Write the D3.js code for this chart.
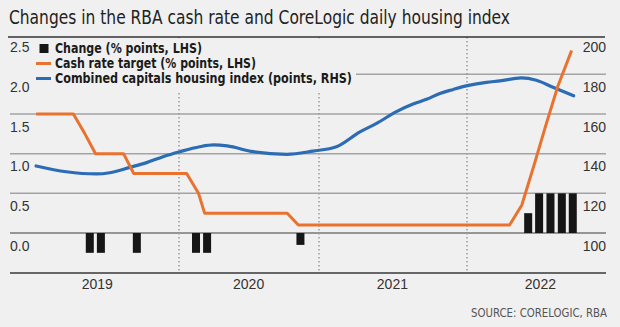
<!DOCTYPE html>
<html>
<head>
<meta charset="utf-8">
<script src="https://cdn.jsdelivr.net/npm/d3@7"></script>
<style>
  body { margin: 0; background: #f0f0f0; }
  svg { display: block; }
  .narrow { font-family: "Liberation Sans Narrow", "DejaVu Sans Condensed", "Roboto", sans-serif; }
  .num { font-family: "Liberation Sans", Arial, sans-serif; }
</style>
</head>
<body>
<svg class="chart"></svg>
<script>
// cash rate target, % points (LHS)
const cashDates = ["2019-02-13", "2019-05-08", "2019-06-03", "2019-06-27", "2019-08-29", "2019-09-21",
  "2020-01-21", "2020-02-21", "2020-03-08", "2020-10-10", "2020-11-08",
  "2022-04-16", "2022-05-16", "2022-06-15", "2022-07-14", "2022-08-13", "2022-09-16"];
const cashRate = [1.5, 1.5, 1.25, 1.0, 1.0, 0.75, 0.75, 0.5, 0.25, 0.25, 0.1, 0.1, 0.35, 0.85, 1.35, 1.85, 2.3];

// change in cash rate, % points (LHS)
const changeDates = ["2019-06-05", "2019-06-30", "2019-09-19", "2020-02-04", "2020-03-04", "2020-11-03",
  "2022-05-22", "2022-06-18", "2022-07-16", "2022-08-13", "2022-09-09"];
const changeValues = [-0.25, -0.25, -0.25, -0.25, -0.25, -0.15, 0.25, 0.5, 0.5, 0.5, 0.5];

// combined capitals housing index, points (RHS)
const indexDates = ["2019-02-13", "2019-04-22", "2019-06-29", "2019-07-29", "2019-09-12", "2019-10-20", "2019-11-26",
  "2020-01-03", "2020-02-24", "2020-04-01", "2020-05-06", "2020-07-13", "2020-10-09", "2020-12-16",
  "2021-02-13", "2021-04-12", "2021-05-23", "2021-07-11", "2021-08-21", "2021-09-23", "2021-10-26", "2021-11-28",
  "2022-01-02", "2022-02-18", "2022-03-23", "2022-05-15", "2022-06-21", "2022-08-01", "2022-09-21"];
const indexValues = [133.8, 130.9, 129.8, 130.4, 133.1, 135.5, 138.5,
  141, 143.5, 144.4, 143.9, 141, 139.7, 141.3,
  143.5, 151, 155.3, 161.2, 165, 167.4, 170.4, 172.4,
  174.3, 176, 176.7, 178.2, 177, 173.5, 169.2];

// axis ticks
const years = [2019, 2020, 2021, 2022];
const leftTicks = [0, 0.5, 1, 1.5, 2, 2.5];
const rightTicks = [100, 120, 140, 160, 180, 200];

const legendLabels = ["Change (% points, LHS)", "Cash rate target (% points, LHS)",
  "Combined capitals housing index (points, RHS)"];

const width = 620, height = 327;
const bg = "#f0f0f0";
const orange = "#e8722e", blue = "#2b6cb4";

const parse = d3.timeParse("%Y-%m-%d");

const svg = d3.select(".chart")
  .attr("width", width)
  .attr("height", height)
  .style("background", bg);

// year boundaries are not evenly spaced on the original, so map each one
const x = d3.scaleTime()
  .domain([2019, 2020, 2021, 2022, 2023].map(y => new Date(y, 0, 1)))
  .range([17, 179, 319, 467, 615]);

const yL = d3.scaleLinear().domain([0, 2.5]).range([233, 34.7]);
const yR = d3.scaleLinear().domain([100, 200]).range([233, 34.7]);

const left = 10, right = 606;

// title (font squeezed to the condensed face of the original)
svg.append("text")
  .attr("class", "narrow")
  .attr("x", 9)
  .attr("y", 24)
  .attr("font-size", 19.5)
  .attr("fill", "#222")
  .attr("textLength", 501)
  .attr("lengthAdjust", "spacingAndGlyphs")
  .text("Changes in the RBA cash rate and CoreLogic daily housing index");

// gridlines
svg.append("g")
  .selectAll("line")
  .data(leftTicks.filter(d => d < 2.5))
  .join("line")
    .attr("x1", left)
    .attr("x2", right)
    .attr("y1", d => yL(d))
    .attr("y2", d => yL(d))
    .attr("stroke", d => d === 0 ? "#777" : "#a3a3a3")
    .attr("stroke-width", 1.5);

// bottom axis line
svg.append("line")
  .attr("x1", left).attr("x2", right)
  .attr("y1", 273).attr("y2", 273)
  .attr("stroke", "#666")
  .attr("stroke-width", 2);

// dotted year separators
svg.append("g")
  .selectAll("line")
  .data(years.slice(1))
  .join("line")
    .attr("x1", d => x(new Date(d, 0, 1)))
    .attr("x2", d => x(new Date(d, 0, 1)))
    .attr("y1", 37)
    .attr("y2", 273)
    .attr("stroke", "#9a9a9a")
    .attr("stroke-width", 1.5)
    .attr("stroke-dasharray", "1.5,2.5");

// top rule
svg.append("line")
  .attr("x1", 8).attr("x2", 605)
  .attr("y1", 37).attr("y2", 37)
  .attr("stroke", "#333")
  .attr("stroke-width", 1.5);

// bars
svg.append("g")
  .selectAll("rect")
  .data(changeDates.map((d, i) => ({ date: parse(d), value: changeValues[i] })))
  .join("rect")
    .attr("x", d => x(d.date))
    .attr("width", 8)
    .attr("y", d => yL(Math.max(0, d.value)))
    .attr("height", d => Math.abs(yL(d.value) - yL(0)))
    .attr("fill", "#161616");

// housing index line (RHS)
const indexData = indexDates.map((d, i) => ({ date: parse(d), value: indexValues[i] }));
svg.append("path")
  .datum(indexData)
  .attr("fill", "none")
  .attr("stroke", blue)
  .attr("stroke-width", 3.2)
  .attr("stroke-linejoin", "round")
  .attr("stroke-linecap", "round")
  .attr("d", d3.line().curve(d3.curveMonotoneX).x(d => x(d.date)).y(d => yR(d.value)));

// cash rate line (LHS)
const cashData = cashDates.map((d, i) => ({ date: parse(d), value: cashRate[i] }));
svg.append("path")
  .datum(cashData)
  .attr("fill", "none")
  .attr("stroke", orange)
  .attr("stroke-width", 3)
  .attr("stroke-linejoin", "round")
  .attr("d", d3.line().x(d => x(d.date)).y(d => yL(d.value)));

// legend box hides grid behind it
svg.append("rect")
  .attr("x", 0).attr("y", 38.5)
  .attr("width", 356).attr("height", 54.5)
  .attr("fill", bg);

const legend = svg.append("g").attr("class", "narrow");
legend.append("rect")
  .attr("x", 39.5).attr("y", 44)
  .attr("width", 9).attr("height", 9)
  .attr("fill", "#161616");
legend.append("line")
  .attr("x1", 36).attr("x2", 51).attr("y1", 63.5).attr("y2", 63.5)
  .attr("stroke", orange).attr("stroke-width", 3);
legend.append("line")
  .attr("x1", 36).attr("x2", 51).attr("y1", 78.5).attr("y2", 78.5)
  .attr("stroke", blue).attr("stroke-width", 3);
const legendWidths = [147, 201, 297];
legend.selectAll("text")
  .data(legendLabels)
  .join("text")
    .attr("x", 55)
    .attr("y", (d, i) => 53 + i * 15)
    .attr("font-size", 14)
    .attr("font-weight", "bold")
    .attr("fill", "#1a1a1a")
    .attr("textLength", (d, i) => legendWidths[i])
    .attr("lengthAdjust", "spacingAndGlyphs")
    .text(d => d);

// left tick labels
svg.append("g")
  .attr("class", "num")
  .selectAll("text")
  .data(leftTicks)
  .join("text")
    .attr("x", left)
    .attr("y", d => yL(d) + 17.5)
    .attr("font-size", 14)
    .attr("fill", "#333")
    .text(d3.format(".1f"));

// right tick labels
svg.append("g")
  .attr("class", "num")
  .selectAll("text")
  .data(rightTicks)
  .join("text")
    .attr("x", right)
    .attr("y", d => yR(d) + 17.5)
    .attr("text-anchor", "end")
    .attr("font-size", 14)
    .attr("fill", "#333")
    .text(d => d);

// year labels, centred on each year
svg.append("g")
  .attr("class", "num")
  .selectAll("text")
  .data(years)
  .join("text")
    .attr("x", d => x(new Date(d, 6, 1)))
    .attr("y", 288.5)
    .attr("text-anchor", "middle")
    .attr("font-size", 14)
    .attr("fill", "#333")
    .text(d => d);

// source
svg.append("text")
  .attr("class", "narrow")
  .attr("x", 471)
  .attr("y", 316.5)
  .attr("font-size", 12.5)
  .attr("fill", "#555")
  .attr("textLength", 136)
  .attr("lengthAdjust", "spacingAndGlyphs")
  .text("SOURCE: CORELOGIC, RBA");
</script>
</body>
</html>
